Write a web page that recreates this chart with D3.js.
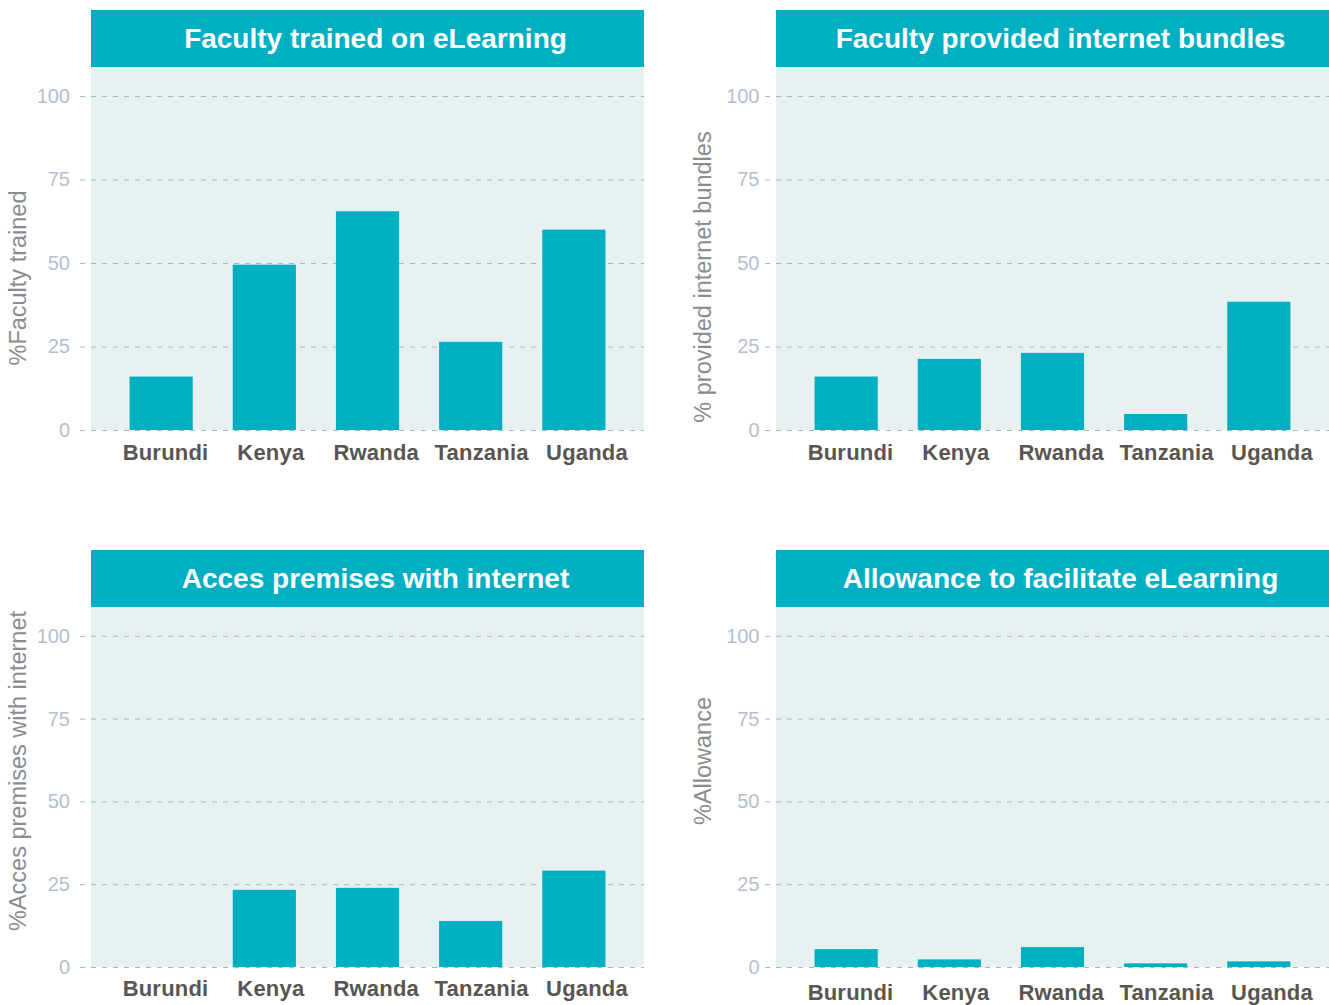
<!DOCTYPE html>
<html>
<head>
<meta charset="utf-8">
<script src="https://d3js.org/d3.v7.min.js"></script>
<style>
  body { margin: 0; background: #ffffff; }
  text { font-family: "Liberation Sans", Arial, sans-serif; }
</style>
</head>
<body>
<div id="chart"></div>
<script>
var countries = ["Burundi", "Kenya", "Rwanda", "Tanzania", "Uganda"];
var trainedValues = [16, 49.5, 65.5, 26.4, 60];
var bundleValues = [16, 21.3, 23.1, 4.8, 38.4];
var premisesValues = [0, 23.3, 23.9, 13.9, 29.1];
var allowanceValues = [5.4, 2.3, 6.0, 1.1, 1.7];
var yTicks = [0, 25, 50, 75, 100];
var panelTitles = ["Faculty trained on eLearning", "Faculty provided internet bundles",
                   "Acces premises with internet", "Allowance to facilitate eLearning"];
var axisTitles = ["%Faculty trained", "% provided internet bundles",
                  "%Acces premises with internet", "%Allowance"];

var svgWidth = 1329;
var svgHeight = 1005;
var teal = "#00afc2";

var panels = [
    {values: trainedValues, x: 91, top: 10, plotBottom: 430, labelY: 278, pad: 10, labelDy: 30},
    {values: bundleValues, x: 776, top: 10, plotBottom: 430, labelY: 277, pad: 5.5, labelDy: 30},
    {values: premisesValues, x: 91, top: 550, plotBottom: 967, labelY: 771, pad: 10, labelDy: 29},
    {values: allowanceValues, x: 776, top: 550, plotBottom: 967, labelY: 761, pad: 5.5, labelDy: 33}
];
var panelWidth = 553;
var headerHeight = 57;

var svg = d3.select("#chart")
  .append("svg")
  .attr("width", svgWidth)
  .attr("height", svgHeight);

panels.forEach(function(p, i) {
    var plotTop = p.top + headerHeight;
    var g = svg.append("g");

    // header band + title
    g.append("rect")
        .attr("x", p.x).attr("y", p.top)
        .attr("width", panelWidth).attr("height", headerHeight)
        .attr("fill", teal);
    g.append("text")
        .attr("x", p.x + panelWidth / 2 + 8)
        .attr("y", p.top + 38)
        .attr("text-anchor", "middle")
        .attr("fill", "white")
        .attr("font-size", "28px")
        .attr("font-weight", "bold")
        .text(panelTitles[i]);

    // plot background
    g.append("rect")
        .attr("x", p.x).attr("y", plotTop)
        .attr("width", panelWidth).attr("height", p.plotBottom - plotTop)
        .attr("fill", "#e8f1f2");

    var xBand = d3.scaleBand()
        .domain(countries)
        .range([p.x, p.x + panelWidth])
        .paddingInner(0.388)
        .paddingOuter(0.374);

    // labels sit slightly wider apart than the bars in the original
    var xLabel = d3.scalePoint()
        .domain(countries)
        .range([p.x + 74.5, p.x + 496]);

    var yLinear = d3.scaleLinear()
        .domain([0, 108.7])
        .range([p.plotBottom, plotTop]);

    var leftAxis = d3.axisLeft(yLinear)
        .tickValues(yTicks)
        .tickSize(-(panelWidth + 11))
        .tickPadding(p.pad);

    var axisG = g.append("g")
        .attr("transform", `translate(${p.x - 11}, 0)`)
        .call(leftAxis);
    axisG.select(".domain").remove();
    axisG.selectAll(".tick line")
        .attr("stroke", "#9cbcbc")
        .attr("stroke-dasharray", "5,6");
    axisG.selectAll(".tick text")
        .attr("fill", "#b3bfd1")
        .attr("font-size", "20px")
        .attr("font-family", "Liberation Sans, Arial, sans-serif");

    g.append("g")
        .selectAll("rect")
        .data(p.values)
        .enter()
        .append("rect")
        .attr("x", function(d, j) { return xBand(countries[j]); })
        .attr("y", function(d) { return yLinear(d); })
        .attr("width", xBand.bandwidth())
        .attr("height", function(d) { return yLinear(0) - yLinear(d); })
        .attr("fill", teal);

    g.append("g")
        .selectAll("text")
        .data(countries)
        .enter()
        .append("text")
        .attr("x", function(d) { return xLabel(d); })
        .attr("y", p.plotBottom + p.labelDy)
        .attr("text-anchor", "middle")
        .attr("fill", "#595552")
        .attr("font-size", "22px")
        .attr("font-weight", "bold")
        .attr("letter-spacing", "0.2px")
        .text(function(d) { return d; });

    g.append("text")
        .attr("transform", `translate(${p.x - 65}, ${p.labelY}) rotate(-90)`)
        .attr("text-anchor", "middle")
        .attr("fill", "#8c8c8c")
        .attr("font-size", "23.5px")
        .text(axisTitles[i]);
});
</script>
</body>
</html>
